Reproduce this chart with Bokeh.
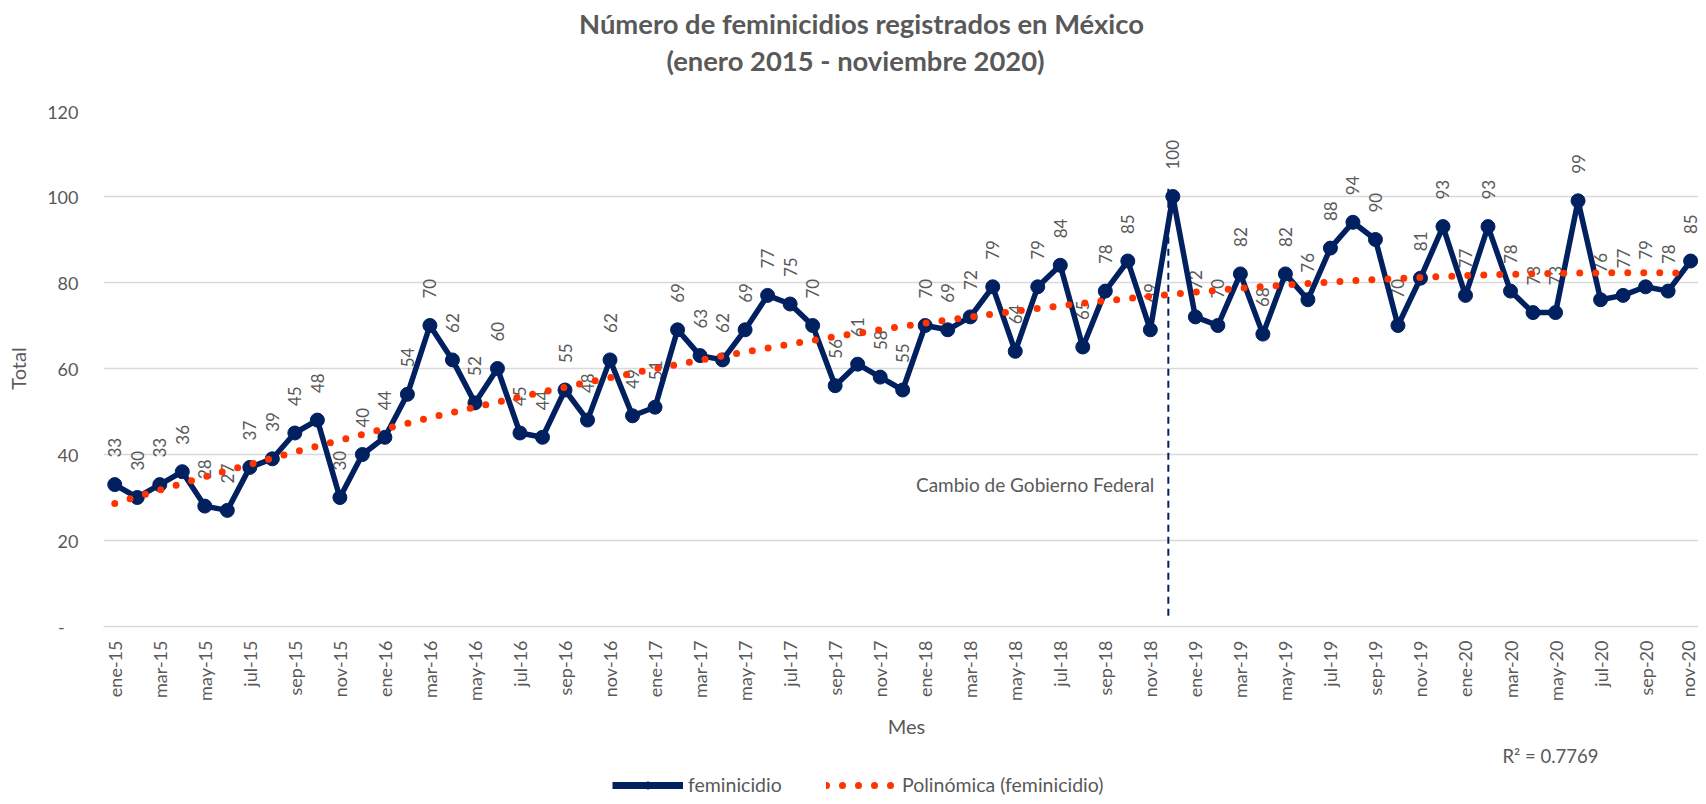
import numpy as np
from bokeh.plotting import figure
from bokeh.layouts import column
from bokeh.models import (ColumnDataSource, FixedTicker, Label, Legend, LegendItem, Range1d)
from bokeh.embed import file_html
from bokeh.resources import INLINE
from bokeh.core.properties import value

# ---------------- data ----------------
meses = ["ene-15","feb-15","mar-15","abr-15","may-15","jun-15","jul-15","ago-15","sep-15","oct-15","nov-15","dic-15",
         "ene-16","feb-16","mar-16","abr-16","may-16","jun-16","jul-16","ago-16","sep-16","oct-16","nov-16","dic-16",
         "ene-17","feb-17","mar-17","abr-17","may-17","jun-17","jul-17","ago-17","sep-17","oct-17","nov-17","dic-17",
         "ene-18","feb-18","mar-18","abr-18","may-18","jun-18","jul-18","ago-18","sep-18","oct-18","nov-18","dic-18",
         "ene-19","feb-19","mar-19","abr-19","may-19","jun-19","jul-19","ago-19","sep-19","oct-19","nov-19","dic-19",
         "ene-20","feb-20","mar-20","abr-20","may-20","jun-20","jul-20","ago-20","sep-20","oct-20","nov-20"]

feminicidio = [33, 30, 33, 36, 28, 27, 37, 39, 45, 48, 30, 40,
               44, 54, 70, 62, 52, 60, 45, 44, 55, 48, 62, 49,
               51, 69, 63, 62, 69, 77, 75, 70, 56, 61, 58, 55,
               70, 69, 72, 79, 64, 79, 84, 65, 78, 85, 69, 100,
               72, 70, 82, 68, 82, 76, 88, 94, 90, 70, 81, 93,
               77, 93, 78, 73, 73, 99, 76, 77, 79, 78, 85]

y_ticks = [0, 20, 40, 60, 80, 100, 120]
cambio_mes = "dic-18"
titulo_1 = "Número de feminicidios registrados en México"
titulo_2 = "(enero 2015 - noviembre 2020)"
eje_x = "Mes"
eje_y = "Total"
r2_text = "R² = 0.7769"
serie_nombre = "feminicidio"
tendencia_nombre = "Polinómica (feminicidio)"

# ---------------- derived ----------------
x = np.arange(len(feminicidio))
y = np.array(feminicidio, dtype=float)
coef = np.polyfit(x, y, 2)          # Excel "Polinómica" trendline (order 2)
xt = np.linspace(0, len(x) - 1, 1400)
yt = np.polyval(coef, xt)

src = ColumnDataSource(dict(x=x, y=y, lbl=[str(v) for v in feminicidio]))
tsrc = ColumnDataSource(dict(x=xt, y=yt))

GRAY = "#595959"
NAVY = "#002060"
RED = "#ff3300"
FONT = "Lato"

W = 1698
H_TOP = 100
H_MAIN = 606
H_BOT = 90


def strip(h):
    f = figure(width=W, height=h, x_range=Range1d(0, 1), y_range=Range1d(0, 1),
               x_axis_type=None, y_axis_type=None, output_backend="svg", toolbar_location=None,
               min_border=0)
    f.outline_line_color = None
    f.xgrid.visible = False
    f.ygrid.visible = False
    return f


# ---------------- title strip ----------------
pt = strip(H_TOP)
pt.add_layout(Label(x=758, y=77, x_units="screen", y_units="screen", text=titulo_1,
                    text_align="center", text_baseline="middle", text_font=FONT, text_font_size="27.4px",
                    text_font_style="bold", text_color=GRAY))
pt.add_layout(Label(x=752, y=40, x_units="screen", y_units="screen", text=titulo_2,
                    text_align="center", text_baseline="middle", text_font=FONT, text_font_size="27.4px",
                    text_font_style="bold", text_color=GRAY))

# ---------------- main chart ----------------
p = figure(width=W, height=H_MAIN, x_range=Range1d(-0.5, 70.35), y_range=Range1d(0, 120),
           output_backend="svg", toolbar_location=None,
           min_border_left=103, min_border_right=0, min_border_top=10, min_border_bottom=80)
p.outline_line_color = None
p.background_fill_color = "white"

p.xaxis.ticker = FixedTicker(ticks=list(range(0, len(meses), 2)))
p.xaxis.major_label_overrides = {i: meses[i] for i in range(0, len(meses), 2)}
p.xaxis.major_label_orientation = np.pi / 2
p.xaxis.axis_line_color = "#d9d9d9"
p.xaxis.axis_line_width = 1.5
p.xaxis.major_label_standoff = 14

p.yaxis.ticker = FixedTicker(ticks=y_ticks)
p.yaxis.major_label_overrides = {0: "-\u00a0\u00a0\u00a0"}
p.yaxis.axis_line_color = None
p.yaxis.major_label_standoff = 25
p.yaxis.axis_label = eje_y
p.yaxis.axis_label_standoff = 14

for ax in (p.xaxis, p.yaxis):
    ax.major_tick_line_color = None
    ax.minor_tick_line_color = None
    ax.major_tick_out = 0
    ax.major_tick_in = 0
    ax.minor_tick_out = 0
    ax.major_label_text_font = FONT
    ax.major_label_text_font_size = "18px"
    ax.major_label_text_color = GRAY
    ax.axis_label_text_font = FONT
    ax.axis_label_text_font_size = "20px"
    ax.axis_label_text_color = GRAY
    ax.axis_label_text_font_style = "normal"

p.xgrid.grid_line_color = None
p.ygrid.grid_line_color = "#d9d9d9"
p.ygrid.grid_line_width = 1.5

# data labels
p.text("x", "y", text="lbl", source=src, angle=np.pi / 2, text_align="left", text_baseline="middle",
       y_offset=-27, text_font=value(FONT), text_font_size="17px", text_color=GRAY)

# vertical marker line
cx = meses.index(cambio_mes) - 0.2
p.segment(x0=[cx], y0=[2.5], x1=[cx], y1=[102], line_color=NAVY, line_width=2, line_dash="7 5")
p.add_layout(Label(x=cx, y=33, x_offset=-14, text="Cambio de Gobierno Federal", text_align="right",
                   text_baseline="middle", text_font=FONT, text_font_size="19px", text_color=GRAY))

# main series
p.line("x", "y", source=src, line_color=NAVY, line_width=5.5, line_join="round")
p.scatter("x", "y", source=src, size=14, fill_color=NAVY, line_color=NAVY)

# trend
p.line("x", "y", source=tsrc, line_color=RED, line_width=7, line_dash="0 16", line_cap="round")

# ---------------- bottom strip: axis title, R2, legend ----------------
pb = strip(H_BOT)
pb.add_layout(Label(x=803, y=71, x_units="screen", y_units="screen", text=eje_x,
                    text_align="center", text_baseline="middle", text_font=FONT, text_font_size="20px",
                    text_color=GRAY))
pb.add_layout(Label(x=1399, y=41, x_units="screen", y_units="screen", text=r2_text,
                    text_align="left", text_baseline="middle", text_font=FONT, text_font_size="18.5px",
                    text_color=GRAY))

off = ColumnDataSource(dict(x=[-10], y=[-10]))
l1 = pb.line("x", "y", source=off, line_color=NAVY, line_width=7)
s1 = pb.scatter("x", "y", source=off, size=15, fill_color=NAVY, line_color=NAVY)
l2 = pb.line("x", "y", source=off, line_color=RED, line_width=7, line_dash="0 16", line_cap="round")

leg_style = dict(orientation="horizontal", label_text_font=FONT, label_text_font_size="19.5px",
                 label_text_color=GRAY, glyph_width=71, glyph_height=18, label_height=18,
                 padding=0, margin=0, border_line_color=None, background_fill_alpha=0, label_standoff=5)
pb.add_layout(Legend(items=[LegendItem(label=serie_nombre, renderers=[l1, s1])], location=(509, 0), **leg_style),
              "center")
pb.add_layout(Legend(items=[LegendItem(label=tendencia_nombre, renderers=[l2])], location=(723, 0), **leg_style),
              "center")

page = column(pt, p, pb, spacing=0)
open("out.html", "w").write(file_html(page, INLINE))
